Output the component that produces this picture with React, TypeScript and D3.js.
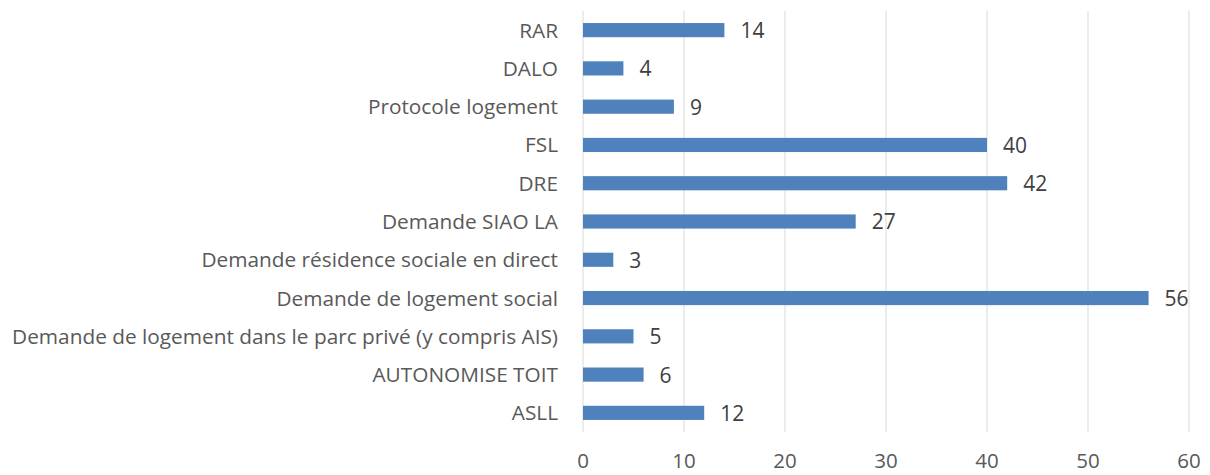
import React, { useEffect, useRef } from "react";
import * as d3 from "d3";

const categories = [
  "RAR",
  "DALO",
  "Protocole logement",
  "FSL",
  "DRE",
  "Demande SIAO LA",
  "Demande résidence sociale en direct",
  "Demande de logement social",
  "Demande de logement dans le parc privé (y compris AIS)",
  "AUTONOMISE TOIT",
  "ASLL",
];
const values = [14, 4, 9, 40, 42, 27, 3, 56, 5, 6, 12];
const xTicks = [0, 10, 20, 30, 40, 50, 60];

const App = () => {
  const ref = useRef<SVGSVGElement>(null);
  const width = 1210;
  const height = 475;
  const margin = { top: 11, right: 21, bottom: 43, left: 583 };

  useEffect(() => {
    const svg = d3.select(ref.current);
    svg.selectAll("*").remove();

    const x = d3
      .scaleLinear()
      .domain([0, 60])
      .range([margin.left, width - margin.right]);

    const y = d3
      .scaleBand()
      .domain(categories)
      .range([margin.top, height - margin.bottom])
      .paddingInner(0.63)
      .paddingOuter(0.315);

    const font = "'Open Sans', sans-serif";

    // gridlines
    svg
      .append("g")
      .selectAll("line")
      .data(xTicks)
      .join("line")
      .attr("x1", (d) => x(d))
      .attr("x2", (d) => x(d))
      .attr("y1", margin.top)
      .attr("y2", height - margin.bottom)
      .attr("stroke", "#d9d9d9")
      .attr("stroke-width", 1);

    // tick labels
    svg
      .append("g")
      .selectAll("text")
      .data(xTicks)
      .join("text")
      .attr("x", (d) => x(d))
      .attr("y", 468)
      .attr("text-anchor", "middle")
      .attr("font-family", font)
      .attr("font-size", 20.5)
      .attr("fill", "#595959")
      .text((d) => d);

    // category labels
    svg
      .append("g")
      .selectAll("text")
      .data(categories)
      .join("text")
      .attr("x", margin.left - 25)
      .attr("y", (d) => y(d)! + y.bandwidth() / 2)
      .attr("dy", "0.36em")
      .attr("text-anchor", "end")
      .attr("font-family", font)
      .attr("font-size", 20.8)
      .attr("fill", "#595959")
      .text((d) => d);

    // bars
    svg
      .append("g")
      .selectAll("rect")
      .data(values)
      .join("rect")
      .attr("x", x(0))
      .attr("y", (d, i) => y(categories[i])!)
      .attr("width", (d) => x(d) - x(0))
      .attr("height", y.bandwidth())
      .attr("fill", "#4f81bd");

    // value labels
    svg
      .append("g")
      .selectAll("text")
      .data(values)
      .join("text")
      .attr("x", (d) => x(d) + 16)
      .attr("y", (d, i) => y(categories[i])! + y.bandwidth() / 2)
      .attr("dy", "0.38em")
      .attr("font-family", font)
      .attr("font-size", 21)
      .attr("fill", "#404040")
      .text((d) => d);
  }, []);

  return (
    <svg
      ref={ref}
      width={width}
      height={height}
      style={{ position: "absolute", left: 0, top: 0, background: "#fff" }}
    />
  );
};

export default App;
